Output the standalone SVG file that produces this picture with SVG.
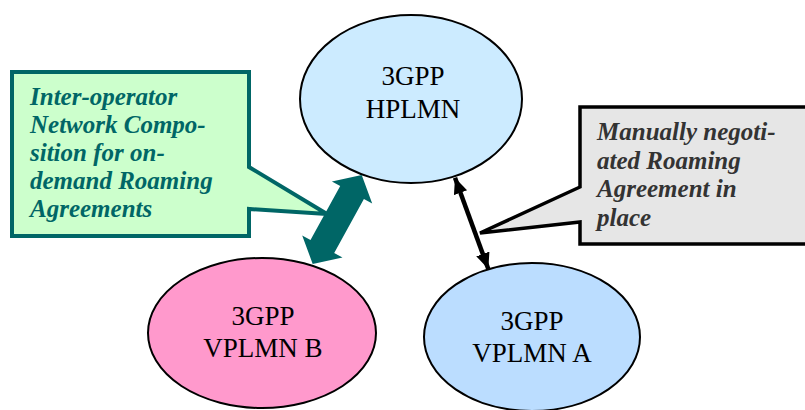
<svg xmlns="http://www.w3.org/2000/svg" width="805" height="410" viewBox="0 0 805 410">
<style>
.node ellipse{stroke:#000;stroke-width:2}
.nt{font-family:"Liberation Serif","Times New Roman",serif;font-size:27px;fill:#000;text-anchor:middle}
.ct{font-family:"Liberation Serif","Times New Roman",serif;font-size:25px;font-weight:bold;font-style:italic}
</style>
<defs>
<marker id="ah" markerUnits="userSpaceOnUse" markerWidth="20" markerHeight="20" refX="16" refY="7" orient="auto-start-reverse">
<path d="M0,0 L16,7 L0,14 Z" fill="#000"/>
</marker>
</defs>
<rect width="805" height="410" fill="#fff"/>
<g id="callout-green">
<path d="M12,72 H249 V167 L327,214 L249,209 V236 H12 Z" fill="#CCFFCC" stroke="#006666" stroke-width="4" stroke-linejoin="miter"/>
<text class="ct" fill="#006666"><tspan x="30" y="105">Inter-operator</tspan><tspan x="30" y="133">Network Compo-</tspan><tspan x="30" y="161">sition for on-</tspan><tspan x="30" y="189">demand Roaming</tspan><tspan x="30" y="217">Agreements</tspan></text>
</g>
<g id="callout-gray">
<path d="M580,107 H812 V244 H580 V222 L480,233 L580,187 Z" fill="#E6E6E6" stroke="#000" stroke-width="3.5"/>
<text class="ct" fill="#333333"><tspan x="597" y="140">Manually negoti-</tspan><tspan x="597" y="169">ated Roaming</tspan><tspan x="597" y="197">Agreement in</tspan><tspan x="597" y="226">place</tspan></text>
</g>
<g id="hplmn" class="node">
<ellipse cx="411" cy="99" rx="111" ry="84" fill="#CCEBFF"/>
<text class="nt" x="413" y="85">3GPP</text>
<text class="nt" x="413" y="118">HPLMN</text>
</g>
<g id="vplmn-b" class="node">
<ellipse cx="262" cy="333" rx="114" ry="75" fill="#FF99CC"/>
<text class="nt" x="263" y="325">3GPP</text>
<text class="nt" x="263" y="357">VPLMN B</text>
</g>
<g id="vplmn-a" class="node">
<ellipse cx="532" cy="337" rx="108" ry="74" fill="#BBDDFF"/>
<text class="nt" x="532" y="330">3GPP</text>
<text class="nt" x="532" y="362">VPLMN A</text>
</g>
<g id="connectors">
<polygon points="312.7,264 302.2,235.4 310.5,240 340.2,186 331.9,181.4 361.7,175 372.2,203.6 363.9,199 334.2,253 342.5,257.6" fill="#006666"/>
<line x1="455" y1="177.7" x2="488.3" y2="269" stroke="#000" stroke-width="4.5" marker-start="url(#ah)" marker-end="url(#ah)"/>
</g>
</svg>
